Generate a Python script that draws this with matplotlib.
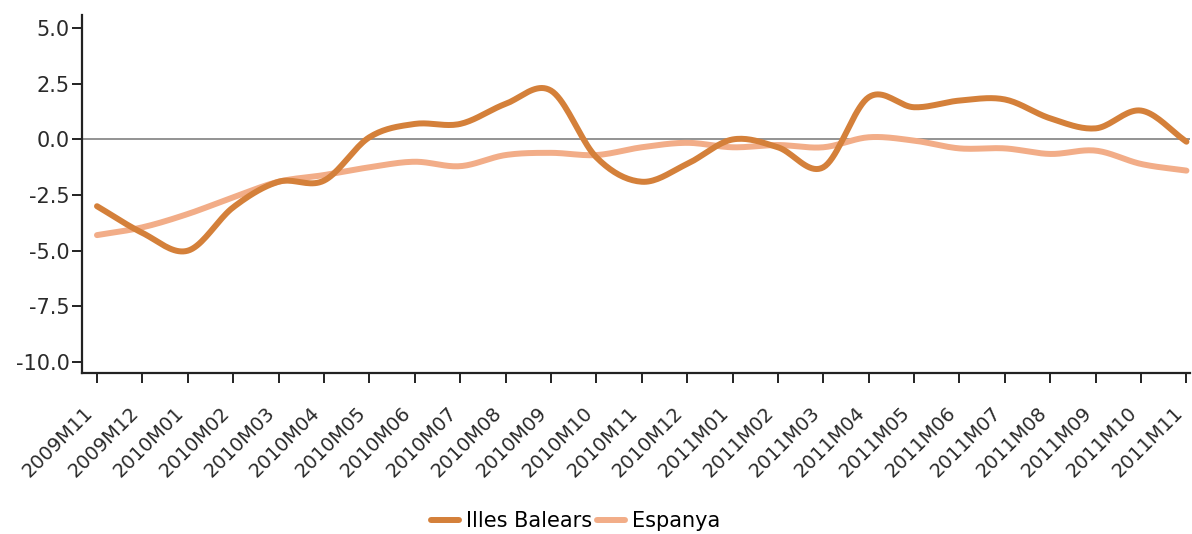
import matplotlib.pyplot as plt
import numpy as np

months = ["2009M11", "2009M12", "2010M01", "2010M02", "2010M03", "2010M04",
          "2010M05", "2010M06", "2010M07", "2010M08", "2010M09", "2010M10",
          "2010M11", "2010M12", "2011M01", "2011M02", "2011M03", "2011M04",
          "2011M05", "2011M06", "2011M07", "2011M08", "2011M09", "2011M10",
          "2011M11"]
balears = [-3.0, -4.2, -5.0, -3.05, -1.9, -1.85, 0.1, 0.7, 0.7, 1.6, 2.2, -0.8,
           -1.9, -1.1, 0.0, -0.35, -1.25, 1.9, 1.45, 1.75, 1.8, 0.95, 0.5, 1.3,
           -0.1]
espanya = [-4.3, -3.95, -3.35, -2.6, -1.9, -1.6, -1.25, -1.0, -1.2, -0.7, -0.6,
           -0.7, -0.35, -0.15, -0.35, -0.25, -0.35, 0.1, -0.05, -0.4, -0.4, -0.65,
           -0.5, -1.1, -1.4]
yticks = [5.0, 2.5, 0.0, -2.5, -5.0, -7.5, -10.0]


def smooth(y, n=20):
    # catmull-rom through the points
    y = np.asarray(y, float)
    p = np.concatenate([[2 * y[0] - y[1]], y, [2 * y[-1] - y[-2]]])
    xs, ys = [], []
    for i in range(len(y) - 1):
        t = np.linspace(0, 1, n, endpoint=False)
        p0, p1, p2, p3 = p[i], p[i + 1], p[i + 2], p[i + 3]
        v = 0.5 * (2 * p1 + (-p0 + p2) * t + (2 * p0 - 5 * p1 + 4 * p2 - p3) * t ** 2
                   + (-p0 + 3 * p1 - 3 * p2 + p3) * t ** 3)
        xs.append(i + t)
        ys.append(v)
    xs.append([len(y) - 1])
    ys.append([y[-1]])
    return np.concatenate(xs), np.concatenate(ys)


fig = plt.figure(figsize=(11.92, 5.34), dpi=100)
ax = fig.add_axes([0.0688, 0.3015, 0.9292, 0.6705])

ax.axhline(0, color='#808080', linewidth=1.2, zorder=1)
x1, y1 = smooth(balears)
x2, y2 = smooth(espanya)
ax.plot(x2, y2, color='#F2AD88', linewidth=4.3, solid_capstyle='round', label='Espanya', zorder=2)
ax.plot(x1, y1, color='#D4803A', linewidth=4.3, solid_capstyle='round', label='Illes Balears', zorder=3)

ax.set_xlim(-0.33, 24.07)
ax.set_ylim(-10.5, 5.6)
ax.set_xticks(range(len(months)))
ax.set_xticklabels(months, rotation=45, ha='right', fontsize=14, color='#2a2a2a')
ax.set_yticks(yticks)
ax.set_yticklabels(["%.1f" % v for v in yticks], fontsize=15, color='#2a2a2a')
ax.tick_params(axis='both', direction='out', length=7, width=1.4, color='#222222')
ax.tick_params(axis='x', pad=15)
ax.tick_params(axis='y', pad=2)
for s in ['top', 'right']:
    ax.spines[s].set_visible(False)
for s in ['left', 'bottom']:
    ax.spines[s].set_linewidth(1.6)
    ax.spines[s].set_color('#222222')

h, l = ax.get_legend_handles_labels()
fig.legend(h[::-1], l[::-1], loc='lower center', bbox_to_anchor=(0.483, -0.022), ncol=2,
           frameon=False, fontsize=15, handlelength=1.35, handletextpad=0.35, columnspacing=0.2,
           borderaxespad=0.3)

plt.savefig('out.png', dpi=100)
